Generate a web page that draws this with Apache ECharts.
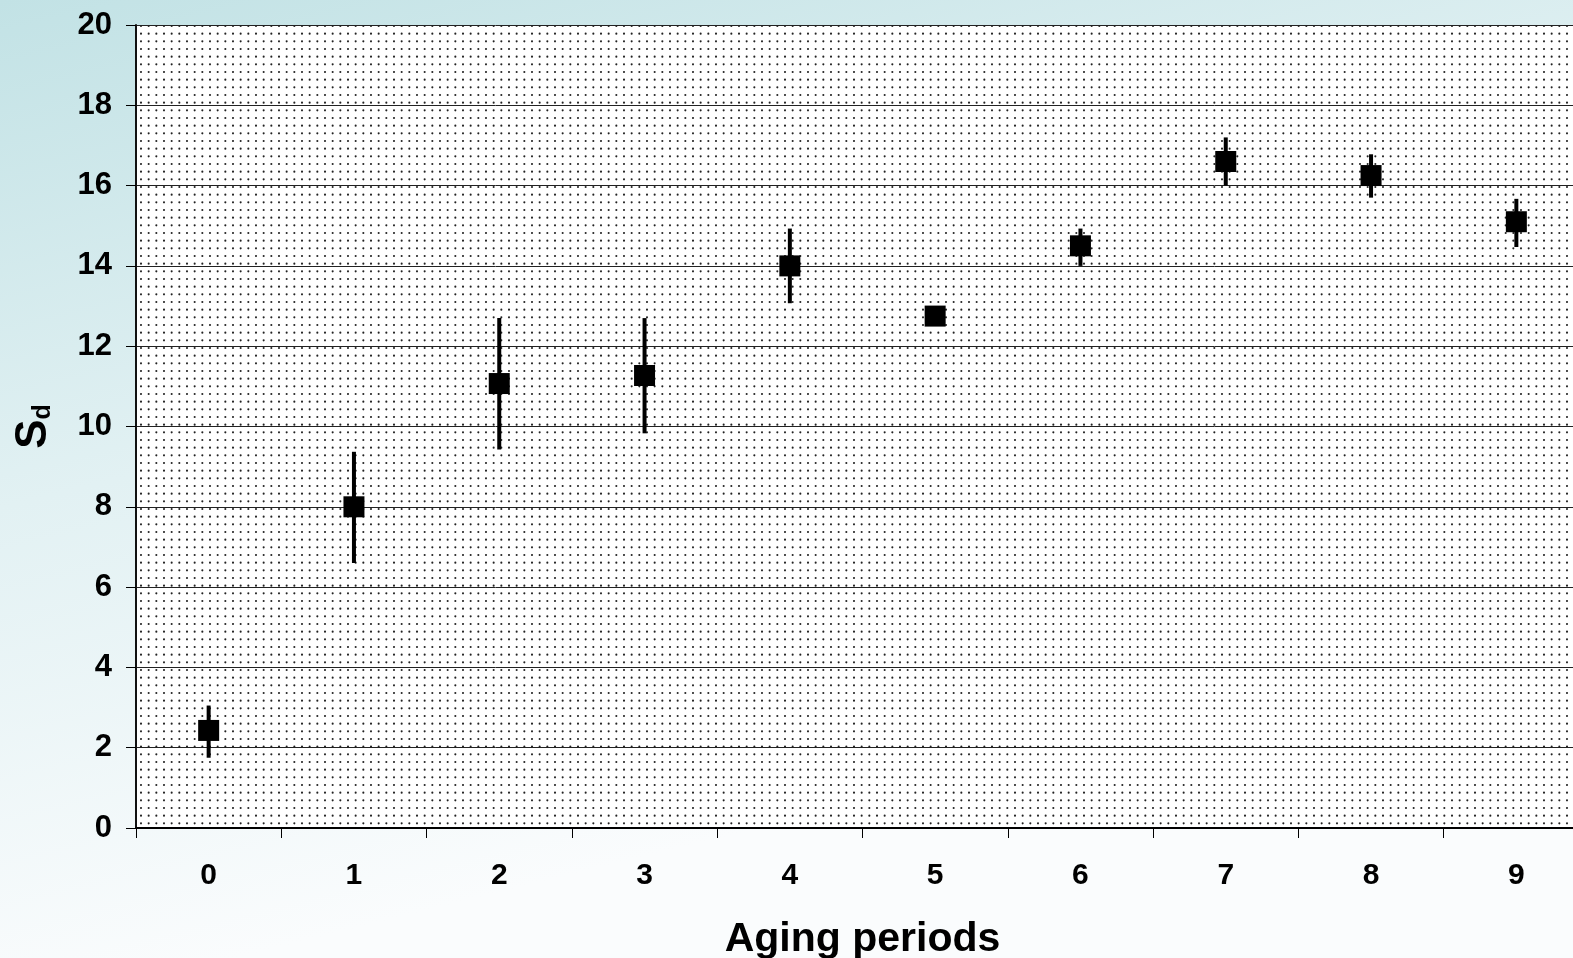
<!DOCTYPE html>
<html>
<head>
<meta charset="utf-8">
<script src="https://cdn.jsdelivr.net/npm/echarts@6/dist/echarts.min.js"></script>
<style>
html,body{margin:0;padding:0;}
#c{width:1573px;height:958px;}
</style>
</head>
<body>
<div id="c"></div>
<script>
const categories = ['0','1','2','3','4','5','6','7','8','9'];
const meanValues = [2.43, 8.0, 11.07, 11.27, 14.0, 12.75, 14.5, 16.6, 16.25, 15.1];
const lowValues  = [1.75, 6.6, 9.43, 9.83, 13.07, 12.6, 14.0, 16.0, 15.7, 14.47];
const highValues = [3.05, 9.37, 12.7, 12.7, 14.93, 12.9, 14.93, 17.2, 16.78, 15.67];
const yTicks = { min: 0, max: 20, interval: 2 };

// dotted pattern
const tile = document.createElement('canvas');
tile.width = 23; tile.height = 23;
const tctx = tile.getContext('2d');
tctx.fillStyle = '#ffffff';
tctx.fillRect(0, 0, 23, 23);
tctx.fillStyle = '#222222';
for (let i = 0; i < 3; i++) {
  for (let j = 0; j < 3; j++) {
    tctx.beginPath();
    tctx.arc(3 + i * 23 / 3, 3 + j * 23 / 3, 1.05, 0, Math.PI * 2);
    tctx.fill();
  }
}

const errData = categories.map((c, i) => [i, lowValues[i], highValues[i]]);
const ptData = categories.map((c, i) => [i, meanValues[i]]);

const chart = echarts.init(document.getElementById('c'));
chart.setOption({
  backgroundColor: {
    type: 'linear', x: 0, y: 0, x2: 0.15, y2: 1,
    colorStops: [
      { offset: 0, color: '#c2e2e5' },
      { offset: 0.5, color: '#e2f1f3' },
      { offset: 1, color: '#fafcfd' }
    ]
  },
  animation: false,
  grid: {
    left: 136, top: 25, width: 1453, height: 803,
    outerBoundsMode: 'none',
    containLabel: false,
    show: true,
    backgroundColor: { image: tile, repeat: 'repeat' },
    borderWidth: 0
  },
  xAxis: {
    type: 'category',
    data: categories,
    boundaryGap: true,
    name: 'Aging periods',
    nameLocation: 'middle',
    nameGap: 91,
    nameTextStyle: { fontFamily: 'Liberation Sans', fontWeight: 'bold', fontSize: 41, color: '#000' },
    axisLine: { lineStyle: { color: '#000', width: 2 } },
    axisTick: { show: true, length: 10, lineStyle: { color: '#000', width: 1 }, alignWithLabel: false },
    axisLabel: { fontFamily: 'Liberation Sans', fontWeight: 'bold', fontSize: 30, color: '#000', margin: 33 },
    splitLine: { show: false }
  },
  yAxis: {
    type: 'value',
    min: yTicks.min, max: yTicks.max, interval: yTicks.interval,
    name: 'S{sub|d}',
    nameLocation: 'middle',
    nameRotate: 90,
    nameGap: 80,
    nameTextStyle: {
      fontFamily: 'Liberation Sans', fontWeight: 'bold', fontSize: 44, color: '#000',
      rich: { sub: { fontFamily: 'Liberation Sans', fontWeight: 'bold', fontSize: 25, color: '#000', verticalAlign: 'bottom', padding: [18, 0, 0, 0] } }
    },
    axisLine: { show: true, lineStyle: { color: '#111', width: 2 } },
    axisTick: { show: true, length: 10, lineStyle: { color: '#000', width: 1 } },
    axisLabel: { fontFamily: 'Liberation Sans', fontWeight: 'bold', fontSize: 31, color: '#000', margin: 24 },
    splitLine: { show: true, lineStyle: { color: '#222', width: 1 } }
  },
  series: [
    {
      type: 'custom',
      data: errData,
      renderItem: function (params, api) {
        const p1 = api.coord([api.value(0), api.value(1)]);
        const p2 = api.coord([api.value(0), api.value(2)]);
        return {
          type: 'line',
          shape: { x1: p1[0], y1: p1[1], x2: p2[0], y2: p2[1] },
          style: { stroke: '#000', lineWidth: 4 }
        };
      },
      z: 3
    },
    {
      type: 'scatter',
      data: ptData,
      symbol: 'rect',
      symbolSize: 21,
      itemStyle: { color: '#000', opacity: 1 },
      z: 4
    }
  ]
});
</script>
</body>
</html>
